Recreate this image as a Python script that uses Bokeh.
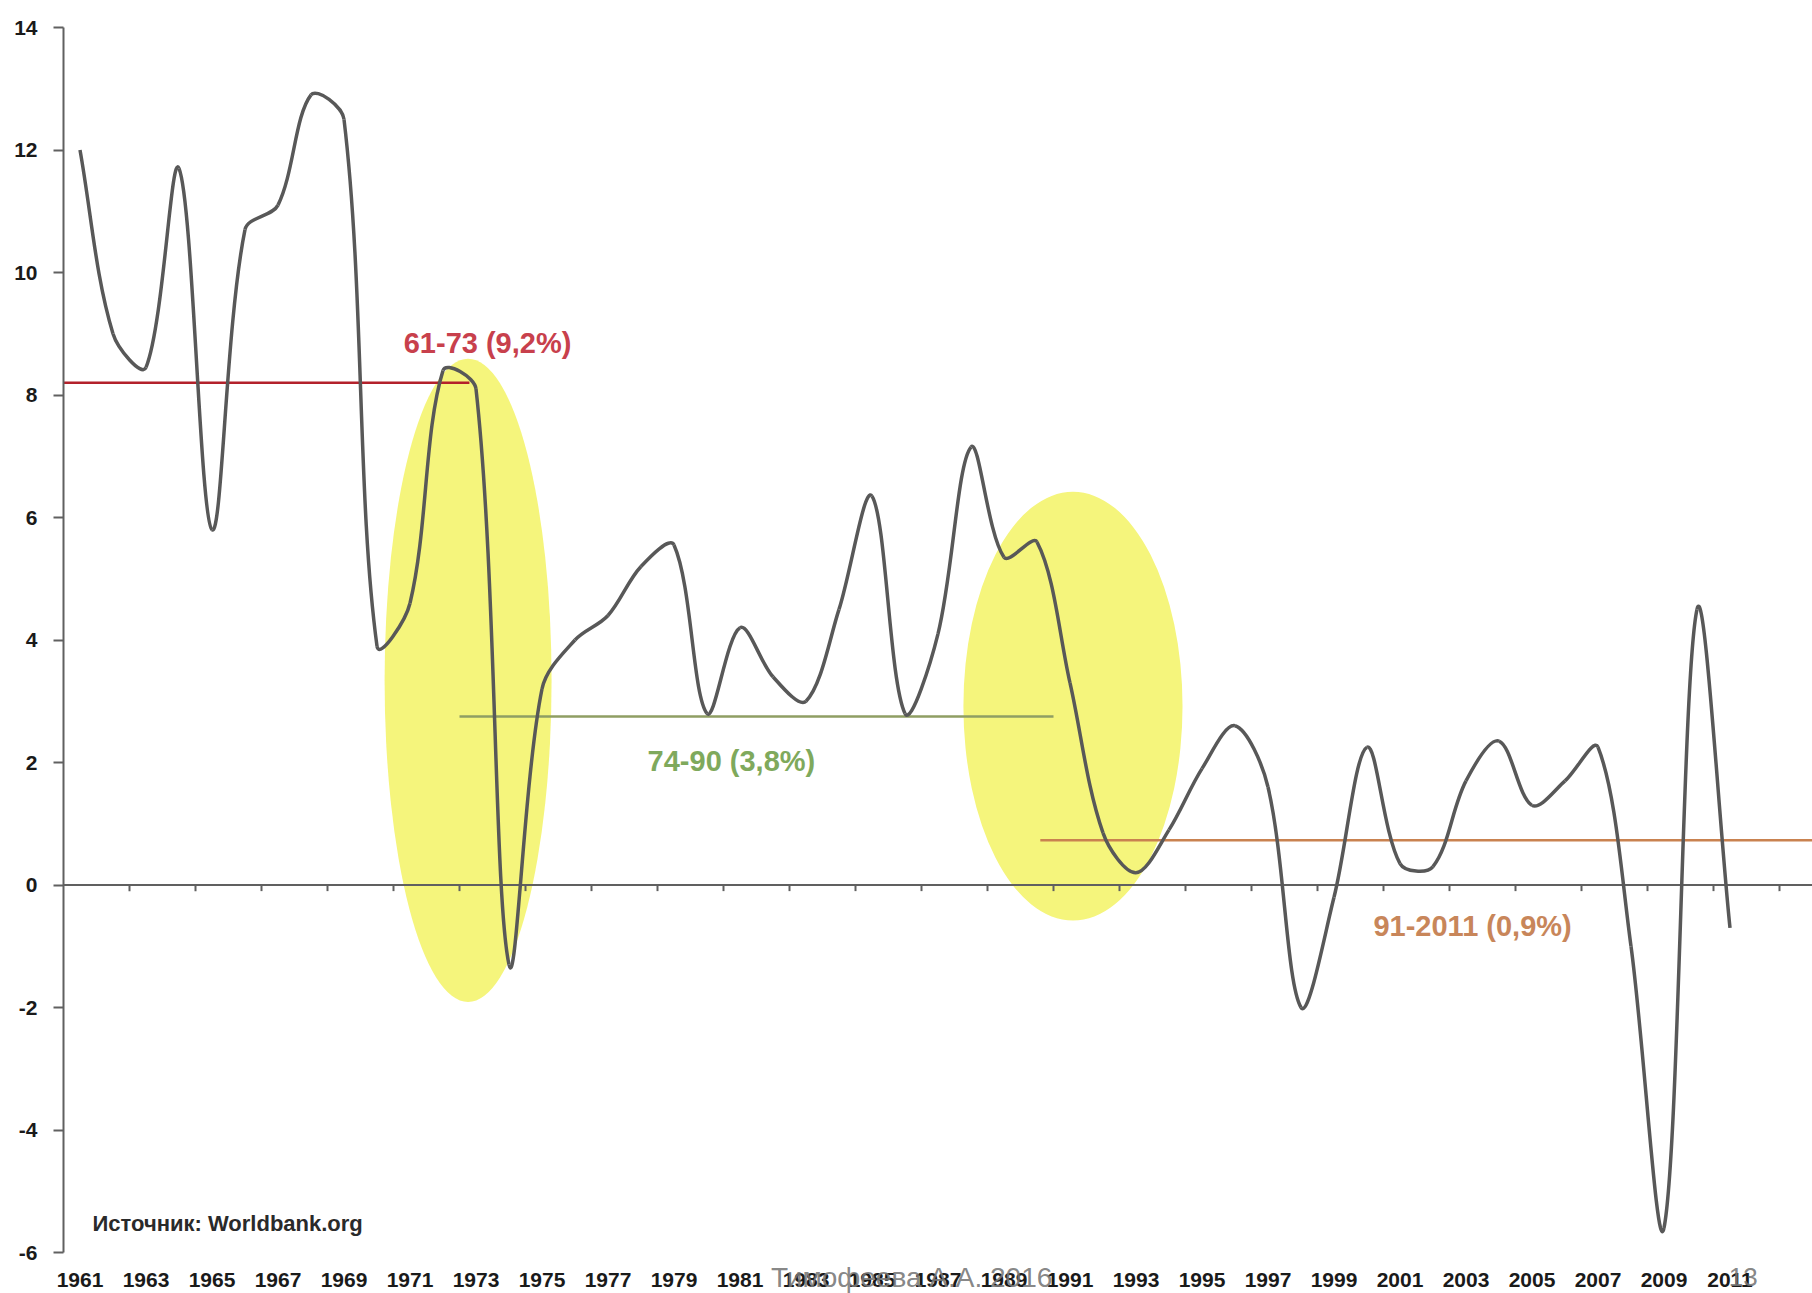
import numpy as np
from bokeh.plotting import figure
from bokeh.models import Range1d, FixedTicker, Span, Label
from bokeh.core.properties import value
from bokeh.embed import file_html
from bokeh.resources import INLINE

# ---- data ----
years = list(range(1961, 2012))
growth = [12.0, 9.0, 8.45, 11.7, 5.8, 10.7, 11.1, 12.9, 12.5, 3.9,
          4.6, 8.4, 8.1, -1.3, 3.2, 4.0, 4.4, 5.2, 5.55, 2.8,
          4.2, 3.4, 3.0, 4.5, 6.35, 2.8, 4.1, 7.15, 5.35, 5.6,
          3.3, 0.85, 0.2, 0.9, 1.9, 2.6, 1.6, -2.0, -0.2, 2.25,
          0.35, 0.3, 1.7, 2.35, 1.3, 1.7, 2.25, -1.0, -5.6, 4.5,
          -0.7]

period_labels = ["61-73 (9,2%)", "74-90 (3,8%)", "91-2011 (0,9%)"]
period_start = [1960.5, 1972.5, 1990.1]
period_end = [1972.8, 1990.5, 2013.5]
period_level = [8.2, 2.75, 0.73]
period_line_colors = ["#b3212b", "#8f9e63", "#c98250"]
period_text_colors = ["#c8404c", "#7fa95c", "#c8865a"]

highlight_x = [1972.76, 1991.09]
highlight_y = [3.34, 2.92]
highlight_w = [5.06, 6.64]
highlight_h = [10.5, 7.0]

x_tick_labels = years[::2]
y_ticks = [-6, -4, -2, 0, 2, 4, 6, 8, 10, 12, 14]

source_text = "Источник: Worldbank.org"
watermark_text = "Тимофеева А.А. 2016"

FONT = "Liberation Sans"
W, H = 1812, 1293
LEFT, TOP = 63, 27            # pixel position of the (1960.5, 14) corner
PX_PER_YEAR = 33.0
PX_PER_UNIT = 61.25
X0 = 1960.5
x_start = X0 - LEFT / PX_PER_YEAR
x_end = X0 + (W - LEFT) / PX_PER_YEAR
y_top = 14 + TOP / PX_PER_UNIT
y_bottom = 14 - (H - TOP) / PX_PER_UNIT

p = figure(width=W, height=H, output_backend="svg", toolbar_location=None,
           x_range=Range1d(x_start, x_end), y_range=Range1d(y_bottom, y_top),
           min_border_left=0, min_border_right=0, min_border_top=0,
           min_border_bottom=0)
p.outline_line_color = None
p.xgrid.visible = False
p.ygrid.visible = False
p.xaxis.visible = False
p.background_fill_color = "white"
p.border_fill_color = "white"

# highlight ellipses (under everything)
p.ellipse(x=highlight_x, y=highlight_y, width=highlight_w, height=highlight_h,
          fill_color="#f5f57c", line_color=None)

# zero line with category ticks
tick_pos = np.array(years[1::2], dtype=float) + 0.5
tick_pos = np.append(tick_pos, tick_pos[-1] + 2)
p.segment(x0=[X0], y0=[0], x1=[x_end], y1=[0], line_color="#606060", line_width=2)
p.segment(x0=tick_pos, y0=np.zeros_like(tick_pos), x1=tick_pos,
          y1=np.full_like(tick_pos, -0.1), line_color="#606060", line_width=2)

# period average lines
p.segment(x0=period_start, y0=period_level, x1=period_end, y1=period_level,
          line_color=period_line_colors, line_width=2.5)

# smoothed series (Excel-like smoothing -> cubic Bezier, chord-weighted tangents)
xs = np.array(years, dtype=float)
ys = np.array(growth, dtype=float)
n = len(xs)
px, py = xs * PX_PER_YEAR, ys * PX_PER_UNIT
seg = np.hypot(np.diff(px), np.diff(py))
i = np.arange(n - 1)
im1 = np.clip(i - 1, 0, n - 1)
ip2 = np.clip(i + 2, 0, n - 1)
d_prev = np.where(i > 0, seg[np.clip(i - 1, 0, n - 2)], 0.0)
d_cur = seg
d_next = np.where(i < n - 2, seg[np.clip(i + 1, 0, n - 2)], 0.0)
f0 = d_cur / (d_prev + d_cur) / 3.0
f1 = d_cur / (d_cur + d_next) / 3.0
cx0 = xs[i] + (xs[i + 1] - xs[im1]) * f0
cy0 = ys[i] + (ys[i + 1] - ys[im1]) * f0
cx1 = xs[i + 1] - (xs[ip2] - xs[i]) * f1
cy1 = ys[i + 1] - (ys[ip2] - ys[i]) * f1
p.bezier(x0=xs[:-1], y0=ys[:-1], x1=xs[1:], y1=ys[1:],
         cx0=cx0, cy0=cy0, cx1=cx1, cy1=cy1,
         line_color="#585858", line_width=3.5)

# period labels
label_pos = [(1973.35, 8.85), (1980.74, 2.03), (2003.2, -0.67)]
for txt, (lx, ly), col in zip(period_labels, label_pos, period_text_colors):
    p.add_layout(Label(x=lx, y=ly, text=txt, text_align="center",
                       text_baseline="middle", text_font=FONT,
                       text_font_style="bold", text_font_size="29px",
                       text_color=col))

p.add_layout(Label(x=1961.38, y=-5.53, text=source_text, text_align="left",
                   text_baseline="middle", text_font=FONT, text_font_style="bold",
                   text_font_size="22px", text_color="#2a2a2a"))

# y axis, drawn at the left edge of the first category
p.yaxis.fixed_location = X0
p.yaxis.ticker = FixedTicker(ticks=y_ticks)
p.yaxis.bounds = (-6, 14)
p.yaxis.major_label_overrides = {t: str(t) for t in y_ticks}
p.yaxis.axis_line_color = "#606060"
p.yaxis.axis_line_width = 2
p.yaxis.major_tick_line_color = "#606060"
p.yaxis.major_tick_line_width = 2
p.yaxis.major_tick_out = 10
p.yaxis.major_tick_in = 0
p.yaxis.minor_tick_line_color = None
p.yaxis.major_label_standoff = 16
p.yaxis.major_label_text_font = FONT
p.yaxis.major_label_text_font_style = "bold"
p.yaxis.major_label_text_font_size = "21px"
p.yaxis.major_label_text_color = "#1a1a1a"

# category labels under the plot
p.text(x=x_tick_labels, y=[-6.45] * len(x_tick_labels),
       text=[str(v) for v in x_tick_labels], text_align="center",
       text_baseline="middle", text_font=value(FONT), text_font_style="bold",
       text_font_size="21px", text_color="#1a1a1a")

# watermark over the axis labels
p.add_layout(Label(x=1986.2, y=-6.4, text=watermark_text, text_align="center",
                   text_baseline="middle", text_font=FONT, text_font_size="28px",
                   text_color="#777777", text_alpha=0.9))
p.add_layout(Label(x=2011.4, y=-6.4, text="13", text_align="center",
                   text_baseline="middle", text_font=FONT, text_font_size="26px",
                   text_color="#777777", text_alpha=0.9))

open("out.html", "w").write(file_html(p, INLINE))
